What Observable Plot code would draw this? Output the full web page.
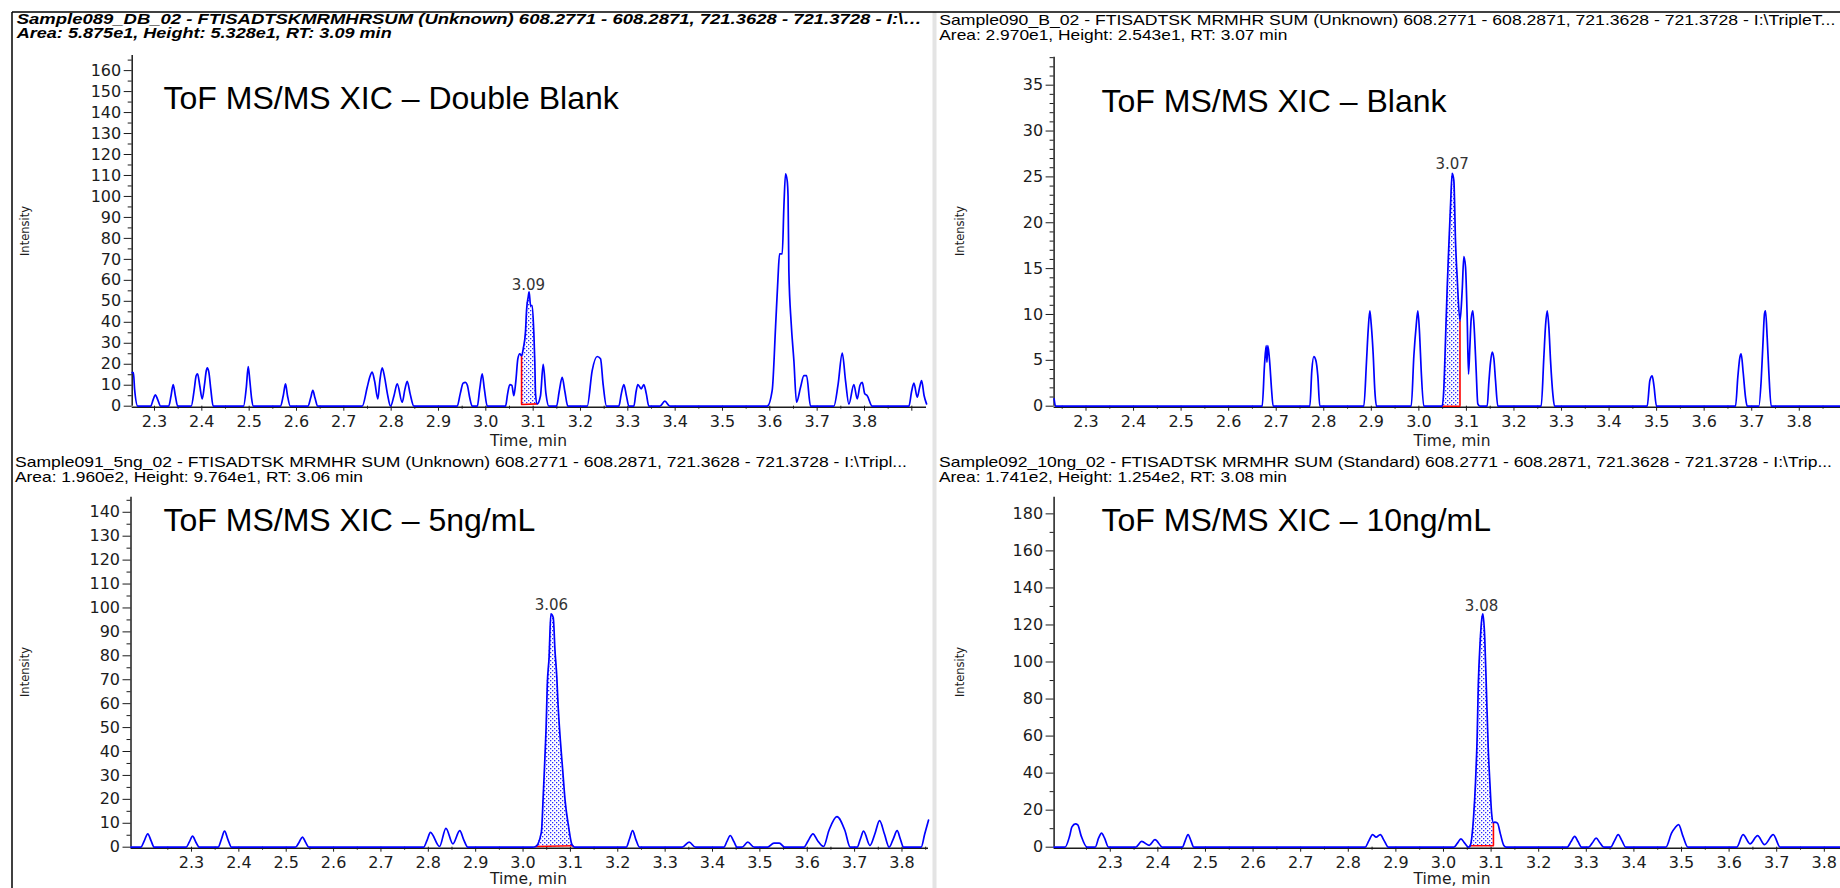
<!DOCTYPE html>
<html><head><meta charset="utf-8">
<script src="https://cdn.jsdelivr.net/npm/d3@7"></script>
<script src="https://cdn.jsdelivr.net/npm/@observablehq/plot@0.6"></script>
<style>
html,body{margin:0;padding:0;background:#fff;}
#root{position:relative;width:1840px;height:888px;overflow:hidden;background:#fff;font-family:"Liberation Sans",Arial,sans-serif;}
.panel{position:absolute;}
#overlay{position:absolute;left:0;top:0;pointer-events:none;}
.panel svg g[aria-label="y-axis tick label"] text, .panel svg g[aria-label="x-axis tick label"] text{font-family:"DejaVu Sans",Verdana,sans-serif;}
</style></head><body>
<svg width="0" height="0" style="position:absolute"><defs>
<pattern id="dots" width="4" height="4" patternUnits="userSpaceOnUse">
<rect width="4" height="4" fill="#fff"/><rect x="0" y="0" width="1.3" height="1.3" fill="#2a2aff"/><rect x="2" y="2" width="1.3" height="1.3" fill="#2a2aff"/>
</pattern></defs></svg>
<div id="root"></div>
<script>
// ---------- DATA ----------
const xTickLabels = [2.3, 2.4, 2.5, 2.6, 2.7, 2.8, 2.9, 3.0, 3.1, 3.2, 3.3, 3.4, 3.5, 3.6, 3.7, 3.8];
const yTicksDoubleBlank = [0, 10, 20, 30, 40, 50, 60, 70, 80, 90, 100, 110, 120, 130, 140, 150, 160];
const yTicksBlank = [0, 5, 10, 15, 20, 25, 30, 35];
const yTicks5ng = [0, 10, 20, 30, 40, 50, 60, 70, 80, 90, 100, 110, 120, 130, 140];
const yTicks10ng = [0, 20, 40, 60, 80, 100, 120, 140, 160, 180];

const titles = ["ToF MS/MS XIC – Double Blank", "ToF MS/MS XIC – Blank", "ToF MS/MS XIC – 5ng/mL", "ToF MS/MS XIC – 10ng/mL"];
const headerLine1 = [
  "Sample089_DB_02 - FTISADTSKMRMHRSUM (Unknown) 608.2771 - 608.2871, 721.3628 - 721.3728 - I:\\…",
  "Sample090_B_02 - FTISADTSK MRMHR SUM (Unknown) 608.2771 - 608.2871, 721.3628 - 721.3728 - I:\\TripleT...",
  "Sample091_5ng_02 - FTISADTSK MRMHR SUM (Unknown) 608.2771 - 608.2871, 721.3628 - 721.3728 - I:\\Tripl...",
  "Sample092_10ng_02 - FTISADTSK MRMHR SUM (Standard) 608.2771 - 608.2871, 721.3628 - 721.3728 - I:\\Trip..."
];
const headerLine2 = [
  "Area: 5.875e1, Height: 5.328e1, RT: 3.09 min",
  "Area: 2.970e1, Height: 2.543e1, RT: 3.07 min",
  "Area: 1.960e2, Height: 9.764e1, RT: 3.06 min",
  "Area: 1.741e2, Height: 1.254e2, RT: 3.08 min"
];
const xAxisTitle = "Time, min";
const yAxisTitle = "Intensity";
// peak label: [text, RT, height]
const peakDoubleBlank = ["3.09", 3.09, 53.28];
const peakBlank = ["3.07", 3.07, 25.43];
const peak5ng = ["3.06", 3.06, 97.64];
const peak10ng = ["3.08", 3.08, 125.4];

// integration windows: [start, end, baselineStart, baselineEnd]
const integDoubleBlank = [3.0755, 3.1085, 0.8, 1.1];
const integBlank = [3.049, 3.0865, 0, 0];
const integ5ng = [3.027, 3.105, 0.3, 0.6];
const integ10ng = [3.0561, 3.1049, 0.8, 0.8];
// red vertical marker: [time, from, to]
const redDoubleBlank = [3.0755, 0.8, 24];
const redBlank = [3.0865, 0, 9.3];
const red10ng = [3.1049, 0.8, 13.2];

// traces: [time (min), intensity]
const doubleBlank = [
  [2.2529,16],[2.2555,16],[2.258,8],[2.2647,0],
  [2.292,0],[2.297,3],[2.302,5.4],[2.307,3],[2.313,0],
  [2.330,0],[2.335,5],[2.3395,10.3],[2.344,5],[2.349,0],
  [2.3775,0],[2.384,8],[2.388,14.5],[2.391,15.4],[2.3955,10],[2.4008,3.5],[2.4055,10],[2.4095,17],[2.4115,18.3],[2.415,16],[2.419,8],[2.424,0],
  [2.488,0],[2.494,9],[2.498,18.9],[2.5015,12],[2.505,4],[2.509,0],
  [2.566,0],[2.572,5],[2.5768,10.6],[2.581,5],[2.587,0],
  [2.624,0],[2.63,4],[2.6345,7.5],[2.639,4],[2.645,0],
  [2.7388,0],[2.7494,9],[2.755,14],[2.7599,16.2],[2.765,12],[2.7719,3.5],[2.776,12],[2.781,18.3],[2.786,14],[2.792,6],[2.7987,0],
  [2.806,5],[2.8128,10.6],[2.8233,1.9],[2.829,8],[2.8339,11.9],[2.84,6],[2.848,0],
  [2.9395,0],[2.946,6],[2.952,11],[2.957,11.4],[2.961,10],[2.966,4],[2.9712,0],
  [2.982,0],[2.987,8],[2.9923,15.4],[2.997,8],[3.003,0],
  [3.0416,0],[3.046,5.9],[3.0507,10.3],[3.055,9.9],[3.0592,5],[3.0635,12.2],[3.0676,22.6],[3.0718,25],[3.0755,24],[3.0795,28],
  [3.0839,35.8],[3.086,45.6],[3.0895,52],[3.0915,54.5],[3.0945,48],[3.098,48],[3.1015,34.5],[3.1035,21],[3.105,5.9],[3.1085,1.1],
  [3.1155,5],[3.1212,19.9],[3.127,6],[3.1331,0],
  [3.1494,0],[3.155,7],[3.1613,13.8],[3.167,7],[3.1733,0],
  [3.2142,0],[3.2247,17],[3.2353,23.7],[3.2423,22.6],[3.248,10],[3.255,0],
  [3.281,0],[3.2863,6],[3.2916,10.3],[3.297,5],[3.3022,0],
  [3.3127,0],[3.3175,7],[3.3212,10.3],[3.3283,8.3],[3.3339,10.3],[3.339,6],[3.3444,0],
  [3.3677,0],[3.3782,2.4],[3.3888,0],
  [3.5945,0],[3.605,7.5],[3.6121,37.7],[3.617,60],[3.6205,72.6],[3.6262,72.6],[3.6297,95],[3.6332,110.8],[3.6367,107.5],[3.6385,100],
  [3.6402,64.7],[3.6452,39.3],[3.6508,21.8],[3.6564,1.9],[3.6649,9],[3.672,14.6],[3.6776,14.6],[3.686,0],
  [3.7353,0],[3.744,10],[3.753,25.3],[3.76,12],[3.767,1],[3.7775,10.3],[3.7846,3.5],[3.7905,10],[3.7952,11.4],[3.8005,6],[3.8058,5],[3.8163,0],
  [3.8938,0],[3.8995,7],[3.9044,11],[3.9114,4.3],[3.9165,9],[3.9206,12.2],[3.926,5],[3.9311,1.1]
];
const blank = [
  [2.2329,0.8],[2.236,0],
  [2.6705,0],[2.6754,4.5],[2.6789,6.6],[2.6805,4.8],[2.6824,6.6],[2.6866,4.6],[2.6901,1.9],[2.6936,0],
  [2.7707,0],[2.7749,3.9],[2.7791,5.4],[2.7833,5],[2.7875,3.3],[2.7917,0],
  [2.8842,0],[2.8898,4.8],[2.8934,8.3],[2.8969,10.4],[2.8997,9],[2.9039,5.7],[2.9074,1.7],[2.9109,0],
  [2.9839,0],[2.9895,5.5],[2.9944,8.8],[2.9978,10.4],[3.0015,7.9],[3.0049,3.9],[3.0104,0],
  [3.049,0],[3.0525,1.9],[3.056,7.2],[3.0595,12.8],[3.063,17.5],[3.0666,21.9],[3.0701,25.4],[3.0736,24.6],[3.0771,17.9],[3.0806,14],
  [3.0865,9.3],[3.0911,12.6],[3.0946,16.3],[3.0981,15.2],[3.1016,9.7],[3.1044,3.5],[3.1072,6.4],[3.11,9.5],[3.1135,10.4],[3.117,7.9],[3.1205,3.9],[3.124,0.25],[3.1282,0],
  [3.1437,0],[3.1472,2.6],[3.1507,4.8],[3.1542,5.9],[3.1577,5.2],[3.1612,2.8],[3.1661,0],
  [3.2572,0],[3.2628,5.3],[3.2664,8.8],[3.2699,10.4],[3.2734,8.6],[3.2769,5],[3.2818,1.3],[3.2853,0],
  [3.4802,0],[3.4858,2.8],[3.4907,3.3],[3.4942,2.3],[3.4998,0],
  [3.6659,0],[3.6708,3.2],[3.675,5.3],[3.6778,5.7],[3.682,3.7],[3.6869,1],[3.6905,0],
  [3.715,0],[3.7199,2.8],[3.7234,6.6],[3.7269,10.1],[3.729,10.4],[3.7325,7.5],[3.736,3.7],[3.741,0],
  [3.8867,0]
];
const ng5 = [
  [2.1723,0],
  [2.193,0],[2.2,2.5],[2.2077,5.6],[2.215,2.5],[2.2212,0],
  [2.2887,0],[2.2955,2.2],[2.3023,4.6],[2.309,2.2],[2.3169,0],
  [2.3563,0],[2.363,3.2],[2.3698,6.7],[2.377,3.2],[2.3845,0],
  [2.5196,0],[2.527,2],[2.5342,4.2],[2.541,2],[2.5477,0],
  [2.7899,0],[2.7975,3],[2.8045,6.2],[2.8236,0.3],[2.8372,7.9],[2.8518,1.4],[2.8664,6.9],[2.875,3],[2.8833,0],
  [3.02,0],[3.027,0.3],[3.0387,6.3],[3.0425,20.9],[3.0462,37.6],[3.0487,50],[3.0512,68],[3.055,79.4],[3.0587,97.5],[3.0637,96],
  [3.0675,82],[3.0713,71],[3.0738,60],[3.0788,44.6],[3.0838,32],[3.0888,19.5],[3.0963,8.4],[3.1026,1.4],[3.105,0.6],[3.1088,0],
  [3.2178,0],[3.2245,3.3],[3.2313,6.9],[3.238,3.3],[3.2459,0],
  [3.336,0],[3.3507,2.1],[3.3642,0],
  [3.4239,0],[3.4305,2.4],[3.4374,4.9],[3.445,2.4],[3.452,0],
  [3.4622,0],[3.4745,2.1],[3.4881,0],
  [3.5162,0],[3.5297,1.7],[3.541,1.7],[3.5523,0],
  [3.5928,0],[3.602,2.7],[3.612,5.6],[3.622,2.7],[3.6345,0.3],[3.6458,7],[3.6626,12.8],[3.6795,7],[3.6908,0],
  [3.7054,0],[3.712,3.3],[3.7189,6.7],[3.7324,0.7],[3.7427,5.5],[3.7527,11.1],[3.763,5.5],[3.773,0],[3.7815,3.4],[3.7899,6.9],[3.7965,3.4],[3.8034,0],
  [3.8405,0],[3.848,5.5],[3.856,11.3]
];
const ng10 = [
  [2.182,0],
  [2.2049,0],[2.2146,6],[2.2195,11],[2.2268,12.6],[2.2317,12],[2.239,6],[2.2512,0],
  [2.2683,0],[2.2756,5],[2.2817,7.6],[2.2878,5],[2.2963,0],
  [2.3537,0],[2.3659,3.1],[2.3817,1],[2.3939,4.1],[2.4098,0],
  [2.4512,0],[2.4573,3.4],[2.4634,6.8],[2.4695,3.4],[2.4756,0],
  [2.8354,0],[2.8431,3.4],[2.8512,6.8],[2.8585,5.4],[2.8671,6.8],[2.8756,3.4],[2.8841,0],
  [3.022,0],[3.0293,2.2],[3.0366,4.5],[3.0445,2.2],[3.0524,0],
  [3.0561,0.8],[3.0634,17.1],[3.0671,34.2],[3.0707,59.4],[3.0732,88.2],[3.0768,109.8],[3.0805,123.3],[3.0829,126],[3.0866,113.4],
  [3.0902,84.6],[3.0939,54],[3.0976,34.2],[3.1012,18],[3.1049,13.2],[3.1073,13.5],[3.1134,13],[3.1195,7.2],[3.1268,0.9],[3.1317,0],
  [3.2598,0],[3.2677,2.9],[3.2756,5.8],[3.2829,2.9],[3.2902,0],
  [3.3049,0],[3.3128,2.4],[3.3207,4.9],[3.3286,2.4],[3.3366,0],
  [3.3512,0],[3.3591,3.4],[3.367,6.8],[3.375,3.4],[3.3829,0],
  [3.4671,0],[3.4793,7.7],[3.4865,10.5],[3.4939,12.2],[3.503,6],[3.5134,0],
  [3.6159,0],[3.6293,6.8],[3.6439,1.8],[3.6598,6.3],[3.6744,1.4],[3.6927,6.8],[3.7073,0],
  [3.834,0]
];

// ---------- LAYOUT (positions & styles) ----------
const panels = [
  {data: doubleBlank, title: titles[0], peak: peakDoubleBlank, integ: integDoubleBlank, red: redDoubleBlank, yTicks: yTicksDoubleBlank, yMinorStep: 5,
   left: 0, top: 0, width: 935, height: 450, ml: 131.7, mr: 9, mt: 55, mb: 44.3, xDomain: [2.2529, 3.931], yMax: 167.2,
   extraX: [3.9], titleDx: 31.3, titleDy: 53, timeX: 528.5, timeY: 440.5, intY: 231},
  {data: blank, title: titles[1], peak: peakBlank, integ: integBlank, red: redBlank, yTicks: yTicksBlank, yMinorStep: 1,
   left: 935, top: 0, width: 905, height: 450, ml: 118.6, mr: 0, mt: 56.7, mb: 44.3, xDomain: [2.2329, 3.8867], yMax: 38.05,
   extraX: [], titleDx: 47.4, titleDy: 54.3, timeX: 1452, timeY: 440.5, intY: 231},
  {data: ng5, title: titles[2], peak: peak5ng, integ: integ5ng, red: null, yTicks: yTicks5ng, yMinorStep: 5,
   left: 0, top: 450, width: 935, height: 438, ml: 130.5, mr: 7, mt: 46.7, mb: 41.3, xDomain: [2.1723, 3.856], yMax: 146.3,
   extraX: [], titleDx: 32.5, titleDy: 33.3, timeX: 528.5, timeY: 879, intY: 672},
  {data: ng10, title: titles[3], peak: peak10ng, integ: integ10ng, red: red10ng, yTicks: yTicks10ng, yMinorStep: 10,
   left: 935, top: 450, width: 905, height: 438, ml: 118.6, mr: 0, mt: 46.7, mb: 41.3, xDomain: [2.182, 3.834], yMax: 189,
   extraX: [], titleDx: 47.4, titleDy: 33.3, timeX: 1452, timeY: 879, intY: 672}
];

const AX = "#1c1c1c";
const FONT = "'Liberation Sans', Arial, sans-serif";
const TICKFONT = "'DejaVu Sans', Verdana, sans-serif";
const root = document.getElementById("root");

function makePanel(p) {
  const [x0, x1] = p.xDomain;
  const xMinor = d3.range(2.15, x1, 0.1).map(v => +v.toFixed(2)).filter(v => v > x0 && v < x1);
  const yMinor = d3.range(0, p.yMax, p.yMinorStep).filter(v => !p.yTicks.includes(v));
  const [i0, i1, b0, b1] = p.integ;
  const baseAt = t => b0 + (b1 - b0) * (t - i0) / (i1 - i0);
  const win = p.data.filter(d => d[0] >= i0 - 1e-9 && d[0] <= i1 + 1e-9);
  const labeled = xTickLabels.filter(v => v >= x0 && v <= x1);
  const marks = [
    Plot.areaY(win, {x: d => d[0], y1: d => baseAt(d[0]), y2: d => d[1], fill: "url(#dots)", curve: "monotone-x"}),
    Plot.ruleY([0], {x1: x0, x2: x1, stroke: AX, strokeWidth: 1.5, dy: 1}),
    Plot.ruleX([x0], {y1: 0, y2: p.yMax, stroke: AX, strokeWidth: 1.5}),
    Plot.axisY({ticks: p.yTicks, tickSize: 8, tickPadding: 3, fontSize: 16, label: null, tickFormat: d => String(d), color: AX}),
    Plot.axisY({ticks: yMinor, tickSize: 4, tickFormat: () => "", label: null, color: AX}),
    Plot.axisX({ticks: labeled, tickSize: 5, tickPadding: 4, fontSize: 16, label: null, tickFormat: d3.format(".1f"), color: AX}),
    Plot.axisX({ticks: xMinor, tickSize: 3, tickFormat: () => "", label: null, color: AX}),
    p.extraX.length ? Plot.axisX({ticks: p.extraX, tickSize: 5, tickFormat: () => "", label: null, color: AX}) : null,
    Plot.line([[i0, b0], [i1, b1]], {x: d => d[0], y: d => d[1], stroke: "#ff0000", strokeWidth: 1.6}),
    p.red ? Plot.ruleX([p.red], {x: d => d[0], y1: d => d[1], y2: d => d[2], stroke: "#ff0000", strokeWidth: 1.6}) : null,
    Plot.line(p.data, {x: d => d[0], y: d => d[1], stroke: "#0000ff", strokeWidth: 1.7, curve: "monotone-x"}),
    Plot.text([p.peak], {x: d => d[1], y: d => d[2], text: d => d[0], dy: -4, lineAnchor: "bottom", fontSize: 15, fontFamily: TICKFONT, fill: "#333"}),
    Plot.text([p.title], {text: d => d, frameAnchor: "top-left", dx: p.titleDx, dy: p.titleDy, textAnchor: "start", lineAnchor: "bottom", fontSize: 32, fontFamily: FONT, fill: "#000"})
  ].filter(Boolean);
  const chart = Plot.plot({
    width: p.width, height: p.height,
    marginLeft: p.ml, marginRight: p.mr, marginTop: p.mt, marginBottom: p.mb,
    x: {domain: p.xDomain},
    y: {domain: [0, p.yMax]},
    style: {background: "transparent", fontFamily: TICKFONT, fontSize: "16px", color: AX, overflow: "visible"},
    marks
  });
  const div = document.createElement("div");
  div.className = "panel";
  Object.assign(div.style, {left: p.left + "px", top: p.top + "px", width: p.width + "px", height: p.height + "px"});
  div.appendChild(chart);
  root.appendChild(div);
}
panels.forEach(makePanel);

// ---------- headers, axis titles & frame ----------
const hdr = [
  {x: 16.7, y1: 24, y2: 38, w1: 905, w2: 375, bold: true},
  {x: 939.3, y1: 25, y2: 40, w1: 896, w2: 348, bold: false},
  {x: 15, y1: 466.5, y2: 481.5, w1: 892, w2: 348, bold: false},
  {x: 939, y1: 466.5, y2: 481.5, w1: 893, w2: 348, bold: false}
];
const ov = d3.select(root).append("svg").attr("id", "overlay").attr("width", 1840).attr("height", 888);
ov.append("line").attr("x1", 934.5).attr("x2", 934.5).attr("y1", 12).attr("y2", 888).attr("stroke", "#e4e4e4").attr("stroke-width", 4);
ov.append("line").attr("x1", 12).attr("x2", 1840).attr("y1", 12).attr("y2", 12).attr("stroke", "#000").attr("stroke-width", 1.5);
ov.append("line").attr("x1", 12).attr("x2", 12).attr("y1", 12).attr("y2", 888).attr("stroke", "#000").attr("stroke-width", 1.5);
hdr.forEach((h, i) => {
  [[headerLine1[i], h.y1, h.w1], [headerLine2[i], h.y2, h.w2]].forEach(([txt, y, w]) => {
    ov.append("text").attr("x", h.x).attr("y", y).text(txt)
      .attr("font-family", FONT).attr("font-size", 14.5)
      .attr("font-weight", h.bold ? "bold" : "normal").attr("font-style", h.bold ? "italic" : "normal")
      .attr("fill", "#000").attr("textLength", w).attr("lengthAdjust", "spacingAndGlyphs");
  });
});
panels.forEach(p => {
  ov.append("text").attr("x", p.timeX).attr("y", p.timeY).attr("dy", "0.35em").attr("text-anchor", "middle")
    .attr("font-family", TICKFONT).attr("font-size", 15.5).attr("fill", AX).text(xAxisTitle);
  const ix = p.left + 25;
  ov.append("text").attr("transform", `translate(${ix},${p.intY}) rotate(-90)`).attr("dy", "0.35em").attr("text-anchor", "middle")
    .attr("font-family", TICKFONT).attr("font-size", 11.5).attr("fill", AX).text(yAxisTitle);
});
</script>
</body></html>
